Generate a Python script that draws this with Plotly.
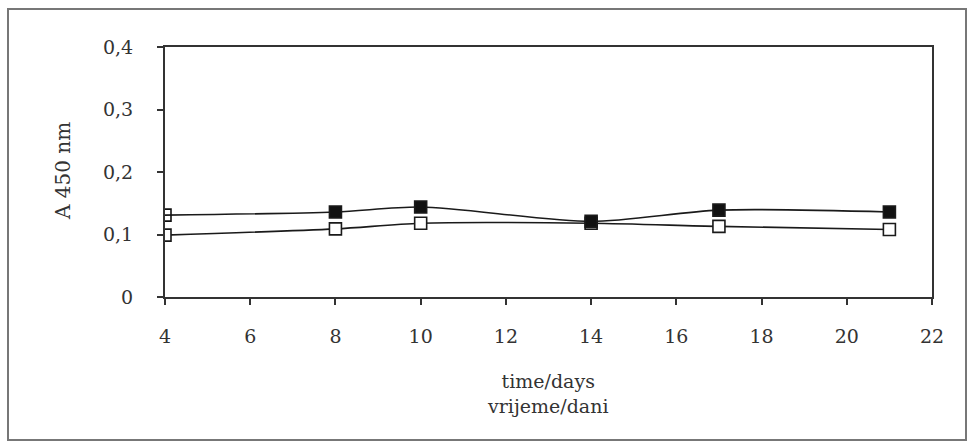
import plotly.graph_objects as go

days = [4, 8, 10, 14, 17, 21]
series_filled = [0.131, 0.136, 0.144, 0.121, 0.139, 0.136]
series_open = [0.099, 0.109, 0.118, 0.118, 0.113, 0.108]
filled_symbols = ["square-open", "square", "square", "square", "square", "square"]
x_ticks = [4, 6, 8, 10, 12, 14, 16, 18, 20, 22]
y_ticks = [0, 0.1, 0.2, 0.3, 0.4]
y_title = "A 450 nm"
x_title = "time/days<br>vrijeme/dani"

font_family = "DejaVu Serif"

fig = go.Figure()
fig.add_trace(go.Scatter(
    x=days, y=series_open, mode="lines+markers",
    line=dict(color="#1a1a1a", width=1.6, shape="spline", smoothing=0.8),
    marker=dict(symbol="square", size=12, color="white", line=dict(color="#1a1a1a", width=1.6)),
    showlegend=False,
))
fig.add_trace(go.Scatter(
    x=days, y=series_filled, mode="lines+markers",
    line=dict(color="#1a1a1a", width=1.6, shape="spline", smoothing=0.8),
    marker=dict(symbol=filled_symbols, size=12, color="#111", line=dict(color="#1a1a1a", width=1.6)),
    showlegend=False,
))

fig.update_layout(
    width=972, height=445,
    margin=dict(l=165, r=40, t=47, b=148),
    paper_bgcolor="white", plot_bgcolor="white",
    separators=", ",
    font=dict(family=font_family, size=19, color="#333"),
    xaxis=dict(
        range=[4, 22], tickvals=x_ticks, ticks="outside", ticklen=6, tickwidth=1.5,
        tickcolor="#333", showline=True, linecolor="#333", linewidth=2, mirror=True,
        showgrid=False, zeroline=False, ticklabelstandoff=15,
    ),
    yaxis=dict(
        range=[0, 0.4], tickvals=y_ticks, ticks="outside", ticklen=6, tickwidth=1.5,
        tickcolor="#333", showline=True, linecolor="#333", linewidth=2, mirror=True,
        showgrid=False, zeroline=False, ticklabelstandoff=20,
    ),
    shapes=[dict(
        type="rect", xref="paper", yref="paper",
        x0=(8 - 165) / 767, x1=(966 - 165) / 767,
        y0=(297 - 440) / 250, y1=(297 - 9) / 250,
        line=dict(color="#777", width=2), fillcolor="rgba(0,0,0,0)", layer="below",
    )],
    annotations=[
        dict(text=x_title, xref="paper", yref="paper",
             x=(548 - 165) / 767, y=(297 - 393) / 250,
             xanchor="center", yanchor="middle",
             showarrow=False, font=dict(size=19, family=font_family, color="#333"),
             align="center"),
        dict(text=y_title, xref="paper", yref="paper",
             x=(63 - 165) / 767, y=(297 - 171) / 250, textangle=-90,
             xanchor="center", yanchor="middle",
             showarrow=False, font=dict(size=20, family=font_family, color="#333")),
    ],
)

fig.write_html("out.html", config={"displayModeBar": False},
               post_script="document.body.style.margin='0';")
